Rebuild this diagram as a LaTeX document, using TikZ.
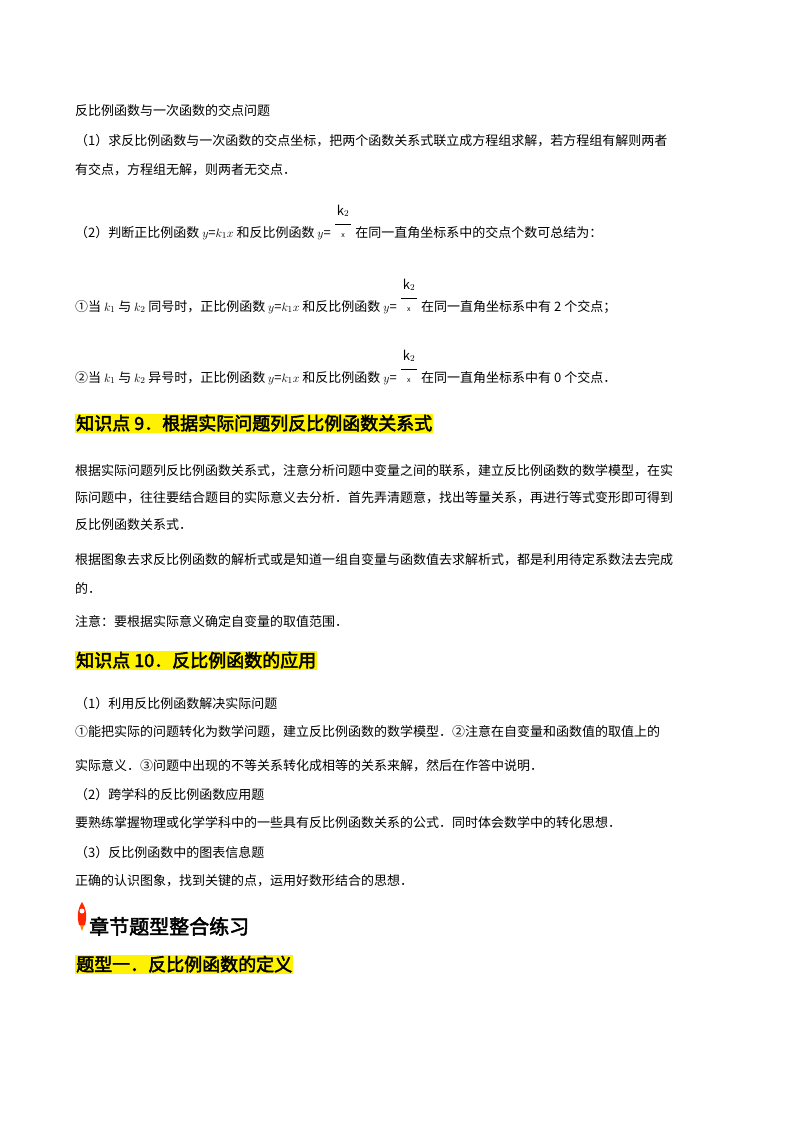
\documentclass[tikz,border=0pt]{standalone}
\usepackage{fontspec}
\setmainfont{Noto Sans CJK SC}[AutoFakeBold=2.5]
\newcommand\kx{\raisebox{0.75em}{$\displaystyle\frac{\raisebox{4pt}{$\,\mathrm{k}_2\,$}}{\raisebox{-2pt}{\scriptsize x}}$}}
\begin{document}
\begin{tikzpicture}[x=1pt, y=-1pt,
  line/.style={anchor=base west, inner sep=0pt, font=\fontsize{13}{13}\selectfont},
  head/.style={anchor=base west, inner sep=1pt, fill=yellow, font=\fontsize{18}{18}\selectfont\bfseries}]
  \useasboundingbox[fill=white] (0,0) rectangle (800,1132);

  % intersection of the two functions
  \node[line] (t1) at (75,115) {反比例函数与一次函数的交点问题};
  \node[line] (t2) at (75,145) {（1）求反比例函数与一次函数的交点坐标，把两个函数关系式联立成方程组求解，若方程组有解则两者};
  \node[line] (t3) at (75,174) {有交点，方程组无解，则两者无交点．};
  \node[line] (t4) at (75,237) {（2）判断正比例函数 $y$=$k_1x$ 和反比例函数 $y$= \kx\ 在同一直角坐标系中的交点个数可总结为：};
  \node[line] (t5) at (75,311) {①当 $k_1$ 与 $k_2$ 同号时，正比例函数 $y$=$k_1x$ 和反比例函数 $y$= \kx\ 在同一直角坐标系中有 2 个交点；};
  \node[line] (t6) at (75,382) {②当 $k_1$ 与 $k_2$ 异号时，正比例函数 $y$=$k_1x$ 和反比例函数 $y$= \kx\ 在同一直角坐标系中有 0 个交点．};

  % point 9
  \node[head] (h9) at (75,430) {知识点 9．根据实际问题列反比例函数关系式};
  \node[line] (p1) at (75,475) {根据实际问题列反比例函数关系式，注意分析问题中变量之间的联系，建立反比例函数的数学模型，在实};
  \node[line] (p2) at (75,502) {际问题中，往往要结合题目的实际意义去分析．首先弄清题意，找出等量关系，再进行等式变形即可得到};
  \node[line] (p3) at (75,529) {反比例函数关系式．};
  \node[line] (p4) at (75,564) {根据图象去求反比例函数的解析式或是知道一组自变量与函数值去求解析式，都是利用待定系数法去完成};
  \node[line] (p5) at (75,593) {的．};
  \node[line] (p6) at (75,626) {注意：要根据实际意义确定自变量的取值范围．};

  % point 10
  \node[head] (h10) at (75,667) {知识点 10．反比例函数的应用};
  \node[line] (q1) at (75,708) {（1）利用反比例函数解决实际问题};
  \node[line] (q2) at (75,736) {①能把实际的问题转化为数学问题，建立反比例函数的数学模型．②注意在自变量和函数值的取值上的};
  \node[line] (q3) at (75,770) {实际意义．③问题中出现的不等关系转化成相等的关系来解，然后在作答中说明．};
  \node[line] (q4) at (75,799) {（2）跨学科的反比例函数应用题};
  \node[line] (q5) at (75,827) {要熟练掌握物理或化学学科中的一些具有反比例函数关系的公式．同时体会数学中的转化思想．};
  \node[line] (q6) at (75,857) {（3）反比例函数中的图表信息题};
  \node[line] (q7) at (75,885) {正确的认识图象，找到关键的点，运用好数形结合的思想．};

  % chapter practice
  \fill[red!70!orange] (82,902) .. controls (77,910) and (77,918) .. (79,925) -- (85,925) .. controls (87,918) and (87,910) .. (82,902);
  \fill[white] (82,911) circle (2.5);
  \fill[orange] (80,925) -- (82,931) -- (84,925) -- cycle;
  \node[anchor=base west, inner sep=0pt, font=\fontsize{20}{20}\selectfont\bfseries] (ch) at (89,934) {章节题型整合练习};
  \node[head] (ty1) at (75,971) {题型一．反比例函数的定义};
\end{tikzpicture}
\end{document}
